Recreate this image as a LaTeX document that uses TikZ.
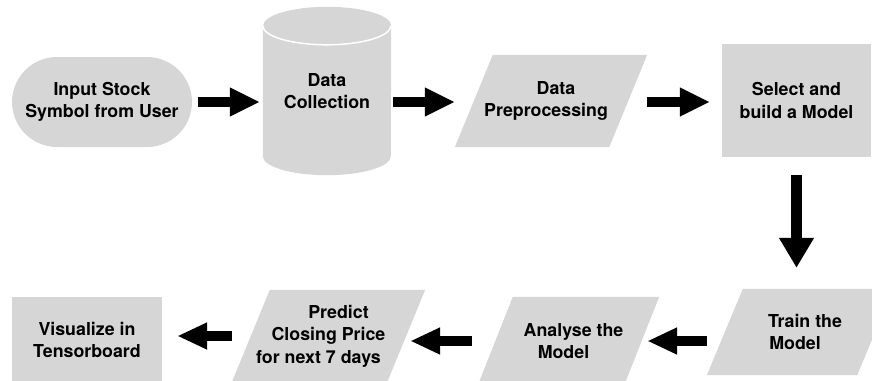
\documentclass[tikz,border=0pt]{standalone}
\usepackage{fontspec}
\setmainfont{TeX Gyre Heros}
\usetikzlibrary{arrows.meta,calc,backgrounds}
\definecolor{boxgray}{RGB}{214,214,214}
\tikzset{
  lbl/.style={font=\fontsize{17.8}{22.5}\selectfont\bfseries, align=center, inner sep=0pt},
  fat/.style={line width=10pt, -{Triangle[length=30pt,width=27pt]}},
  fatlow/.style={line width=10pt, -{Triangle[length=30pt,width=25pt]}},
  fatdown/.style={line width=11pt, -{Triangle[length=30pt,width=33pt]}},
  cylline/.style={white, line width=1.5pt},
  shapefill/.style={fill=boxgray}
}
\newcommand{\slantgap}{\hspace*{10pt}}
\newcommand{\slantgapb}{\hspace*{20pt}}
\begin{document}
\begin{tikzpicture}[x=1pt,y=-1pt]
\useasboundingbox (0,0) rectangle (872,380);
% nodes
\node[lbl, shapefill, rounded corners=45pt, minimum width=180pt, minimum height=90pt] (inp) at (102,102) {Input Stock\\Symbol from User};
\node[lbl, minimum width=128pt, minimum height=168pt] (dc) at (327,91) {Data\\Collection};
\node[lbl, minimum width=192pt, minimum height=92pt] (pre) at (551,101) {\slantgap Data\\Preprocessing\slantgap};
\node[lbl, shapefill, minimum width=149pt, minimum height=113pt] (sel) at (796.5,100.5) {Select and\\build a Model};
\node[lbl, minimum width=186pt, minimum height=86pt] (tr) at (800,332) {\slantgap Train the\\Model\slantgap};
\node[lbl, minimum width=181pt, minimum height=88pt] (an) at (568.5,341) {\slantgap Analyse the\\Model\slantgap};
\node[lbl, minimum width=193pt, minimum height=92pt] (pr) at (328.5,336) {\slantgapb Predict\\Closing Price\\for next 7 days\slantgapb};
\node[lbl, shapefill, minimum width=150pt, minimum height=86pt] (vi) at (87,340) {Visualize in\\Tensorboard};
% shapes behind text
\begin{scope}[on background layer]
  \fill[boxgray] ($(dc.north west)+(0,19)$) -- ($(dc.south west)+(0,-19)$)
     arc[start angle=180,end angle=0,x radius=64,y radius=19]
     -- ($(dc.north east)+(0,19)$)
     arc[start angle=0,end angle=-180,x radius=64,y radius=19] -- cycle;
  \draw[cylline] ($(dc.north west)+(0,19)$) arc[start angle=180,end angle=0,x radius=64,y radius=19];
  \fill[boxgray] ($(pre.north west)+(38,0)$) -- (pre.north east) -- ($(pre.south east)+(-38,0)$) -- (pre.south west) -- cycle;
  \fill[boxgray] ($(tr.north west)+(36,0)$) -- (tr.north east) -- ($(tr.south east)+(-36,0)$) -- (tr.south west) -- cycle;
  \fill[boxgray] ($(an.north west)+(35,0)$) -- (an.north east) -- ($(an.south east)+(-35,0)$) -- (an.south west) -- cycle;
  \fill[boxgray] ($(pr.north west)+(38,0)$) -- (pr.north east) -- ($(pr.south east)+(-38,0)$) -- (pr.south west) -- cycle;
\end{scope}
% connectors
\draw[fat, shorten <=6pt, shorten >=3pt] (inp.east) -- (inp.east -| dc.west);
\draw[fat, shorten <=2pt] (dc.east |- inp.east) -- (pre.west |- inp.east);
\draw[fat, shorten >=12pt] (pre.east |- inp.east) -- (sel.west |- inp.east);
\draw[fatdown, shorten <=18pt, shorten >=21pt] (sel.south) -- (sel.south |- tr.north);
\draw[fatlow, shorten >=-12pt] (tr.west |- an.east) -- (an.east);
\draw[fatlow, shorten <=6pt, shorten >=-15pt] (an.west) -- (an.west -| pr.east);
\draw[fatlow, shorten >=15pt] (pr.west) -- (pr.west -| vi.east);
\end{tikzpicture}
\end{document}
